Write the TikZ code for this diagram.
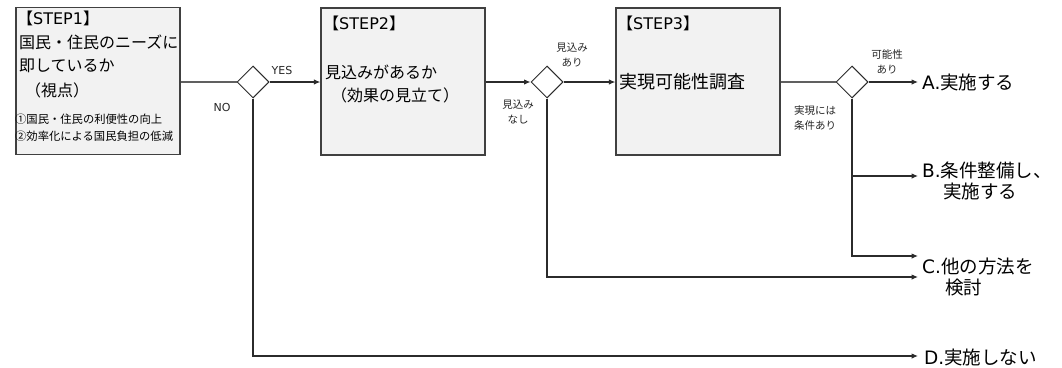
\documentclass[tikz,border=0pt]{standalone}
\usepackage{fontspec}
\setmainfont{Noto Sans CJK JP}
\newfontfamily\lat{DejaVu Sans}
\usetikzlibrary{shapes.geometric,arrows.meta}
\definecolor{boxfill}{HTML}{F2F2F2}
\definecolor{boxline}{HTML}{404040}
\definecolor{conn}{HTML}{2B2B2B}
\definecolor{lconn}{HTML}{606060}
\begin{document}
\begin{tikzpicture}[x=1pt,y=-1pt,
  stepbox/.style={draw=boxline,fill=boxfill,line width=1.3pt,minimum width=164pt,minimum height=147pt,inner sep=0pt},
  dec/.style={diamond,aspect=1,draw=conn,fill=white,line width=1pt,minimum width=32pt,minimum height=32pt,inner sep=0pt},
  txt/.style={anchor=west,inner sep=0pt,font=\fontsize{16}{19}\selectfont},
  small/.style={anchor=west,inner sep=0pt,font=\fontsize{11.3}{14}\selectfont},
  lab/.style={inner sep=0pt,align=center,text=black!85,font=\fontsize{10.5}{15}\selectfont},
  outc/.style={anchor=west,inner sep=0pt,align=left,font=\fontsize{18.5}{21}\selectfont},
  arr/.style={draw=conn,line width=1.1pt,-{Latex[length=6.5pt,width=5.5pt]}},
  plain/.style={draw=lconn,line width=1.1pt}
]
\useasboundingbox (0,0) rectangle (1062,367);

% step boxes
\node[stepbox] (s1) at (98,81) {};
\node[stepbox] (s2) at (403,81.5) {};
\node[stepbox] (s3) at (698,81.5) {};

% STEP1 texts
\node[txt] (h1) at (17,18) {【{\lat STEP1}】};
\node[txt] (t1a) at (19,42) {国民・住民のニーズに};
\node[txt] (t1b) at (19,66) {即しているか};
\node[txt] (t1c) at (25,90) {（視点）};
\node[small] (t1d) at (15,119) {①国民・住民の利便性の向上};
\node[small] (t1e) at (15,136) {②効率化による国民負担の低減};

% STEP2 texts
\node[txt] (h2) at (323,23) {【{\lat STEP2}】};
\node[txt] (t2a) at (325,72) {見込みがあるか};
\node[txt] (t2b) at (331,95) {（効果の見立て）};

% STEP3 texts
\node[txt] (h3) at (617,23) {【{\lat STEP3}】};
\node[txt,font=\fontsize{18}{21}\selectfont] (t3) at (619,82) {実現可能性調査};

% decisions
\node[dec] (d1) at (253,82) {};
\node[dec] (d2) at (547,82) {};
\node[dec] (d3) at (852,82) {};

% labels
\node[lab,font=\lat\fontsize{11}{13}\selectfont] (lyes) at (282,70) {YES};
\node[lab,font=\lat\fontsize{11}{13}\selectfont] (lno) at (222,107) {NO};
\node[lab] (l2a) at (572,55) {見込み\\あり};
\node[lab] (l2b) at (518,112) {見込み\\なし};
\node[lab] (l3a) at (887,62) {可能性\\あり};
\node[lab] (l3b) at (815,118) {実現には\\条件あり};

% outcomes
\node[outc] (oA) at (922,82) {{\lat A.}実施する};
\node[outc] (oB) at (922,181) {{\lat B.}条件整備し、\\\hspace*{21pt}実施する};
\node[outc] (oC) at (922,277) {{\lat C.}他の方法を\\\hspace*{23pt}検討};
\node[outc] (oD) at (924,357) {{\lat D.}実施しない};

% arrow end points
\coordinate (cA) at (918,82);
\coordinate (cB) at (918,176);
\coordinate (cC1) at (918,256);
\coordinate (cC2) at (918,277);
\coordinate (cD) at (918,356);

% connectors
\draw[plain] (d1.west -| s1.east) -- (d1.west);
\draw[arr] (d1.east) -- (d1.east -| s2.west);
\draw[arr] (d1.south) |- (cD);
\draw[arr] (d2.west -| s2.east) -- (d2.west);
\draw[arr] (d2.east) -- (d2.east -| s3.west);
\draw[arr] (d2.south) |- (cC2);
\draw[plain] (d3.west -| s3.east) -- (d3.west);
\draw[arr] (d3.east) -- (cA);
\draw[arr] (d3.south) |- (cC1);
\draw[arr] (d3.south |- cB) -- (cB);
\end{tikzpicture}
\end{document}
